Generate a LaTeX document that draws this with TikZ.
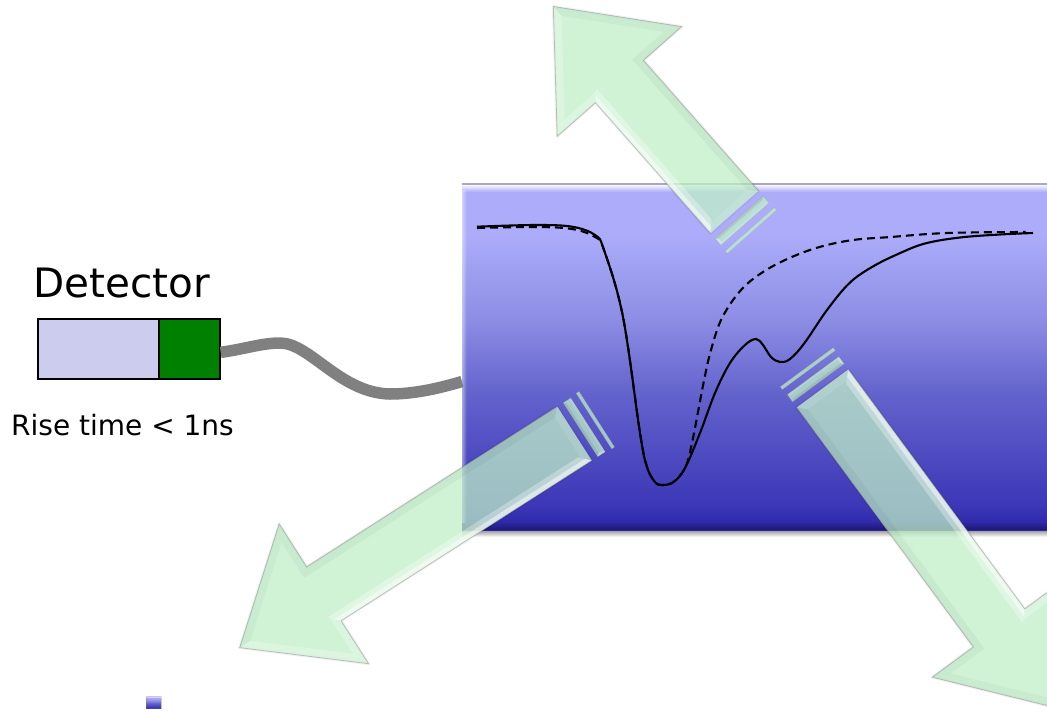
\documentclass[tikz,border=0pt]{standalone}
\usepackage{fontspec}
\setmainfont{DejaVu Sans}
\definecolor{bA}{RGB}{42,36,165}
\definecolor{bB}{RGB}{60,55,183}
\definecolor{bC}{RGB}{100,100,205}
\definecolor{bD}{RGB}{140,140,228}
\definecolor{bE}{RGB}{172,172,250}
\definecolor{lav}{RGB}{204,204,238}
\definecolor{dgreen}{RGB}{0,128,0}
\definecolor{cablegray}{RGB}{128,128,128}
\definecolor{mint}{RGB}{192,239,200}
\pgfdeclareverticalshading{bluegrad}{100bp}{color(0bp)=(bA);color(25bp)=(bA);color(28.5bp)=(bB);color(45bp)=(bC);color(55bp)=(bD);color(67.5bp)=(bE);color(100bp)=(bE)}
\tikzset{
  basefill/.style={fill=mint,fill opacity=0.74},
  facetlight/.style={fill=white,fill opacity=#1},
  facetdark/.style={fill=black,fill opacity=#1},
  rimline/.style={draw=black!55,draw opacity=0.4,line width=0.8pt,line join=miter},
  softshadow/.style={draw=black,draw opacity=0.05,line width=3pt,line join=round},
  trace/.style={line width=2.1pt,black,smooth,tension=0.6},
  dbox/.style={draw=black,line width=1.7pt,inner sep=0pt,anchor=north west},
  lbl/.style={inner sep=0pt,anchor=base west,text=black}
}
% #1 x, #2 y, #3 angle, #4 neck distance
\newcommand{\bevelarrow}[4]{%
\begin{scope}[shift={(#1,#2)},rotate=#3]
  \def\Ln{#4}
  \draw[softshadow] (0,-32) -- (\Ln,-32) -- (\Ln,-83) -- (\Ln+100,0) -- (\Ln,83) -- (\Ln,32) -- (0,32) -- cycle;
  \fill[basefill] (0,-32) -- (\Ln,-32) -- (\Ln,-83) -- (\Ln+100,0) -- (\Ln,83) -- (\Ln,32) -- (0,32) -- cycle;
  % shaft light side, wide and soft
  \fill[facetlight=0.30] (0,-32) -- (\Ln,-32) -- (\Ln+10,-22) -- (10,-22) -- cycle;
  \fill[facetlight=0.48] (0,-32) -- (\Ln,-32) -- (\Ln+5,-27) -- (5,-27) -- cycle;
  % neck, light side
  \fill[facetlight=0.25] (\Ln,-32) -- (\Ln,-83) -- (\Ln+8,-66) -- (\Ln+8,-24) -- cycle;
  % head, light side
  \fill[facetlight=0.24] (\Ln,-83) -- (\Ln+100,0) -- (\Ln+87.5,0) -- (\Ln+8,-66) -- cycle;
  % head, dark side
  \fill[facetdark=0.03] (\Ln,83) -- (\Ln+100,0) -- (\Ln+87.5,0) -- (\Ln+8,66) -- cycle;
  % neck, dark side
  \fill[facetdark=0.035] (\Ln,32) -- (\Ln,83) -- (\Ln+8,66) -- (\Ln+8,24) -- cycle;
  % shaft dark side
  \fill[facetdark=0.04] (0,32) -- (\Ln,32) -- (\Ln+8,24) -- (8,24) -- cycle;
  % end
  \fill[facetlight=0.10] (0,-32) -- (0,32) -- (8,24) -- (8,-24) -- cycle;
  \draw[rimline] (0,-32) -- (\Ln,-32) -- (\Ln,-83) -- (\Ln+100,0) -- (\Ln,83) -- (\Ln,32) -- (0,32);
  % bars behind the end of the shaft
  \fill[basefill] (-7,-32) rectangle (-16,32);
  \fill[facetlight=0.30] (-7,-32) -- (-16,-32) -- (-13.5,-29.5) -- (-9.5,-29.5) -- cycle;
  \fill[facetlight=0.12] (-16,-32) -- (-16,32) -- (-13.5,29.5) -- (-13.5,-29.5) -- cycle;
  \fill[facetdark=0.08] (-7,-32) -- (-7,32) -- (-9.5,29.5) -- (-9.5,-29.5) -- cycle;
  \draw[draw=black!50,draw opacity=0.25,line width=0.5pt] (-7,-32) rectangle (-16,32);
  \fill[basefill] (-23,-33) rectangle (-26.5,33);
  \draw[draw=black!50,draw opacity=0.25,line width=0.5pt] (-23,-33) rectangle (-26.5,33);
\end{scope}}
\begin{document}
\begin{tikzpicture}[x=1pt,y=-1pt]
\useasboundingbox (0,0) rectangle (1047,710);
\clip (0,0) rectangle (1047,710);
\fill[white] (0,0) rectangle (1047,710);
% shadow under the screen
\foreach \i [evaluate=\i as \op using 0.42-0.06*\i] in {0,...,6}
  \fill[black,fill opacity=\op] (462,530+\i) rectangle (1060,531+\i);
% screen
\node[shading=bluegrad,minimum width=598pt,minimum height=347pt,inner sep=0pt,outer sep=0pt,anchor=north west] (screen) at (462,183) {};
\foreach \i [evaluate=\i as \op using 0.9-0.13*\i] in {0,...,6}
  \fill[white,fill opacity=\op] (462,184.5+\i) rectangle (1060,185.5+\i);
\fill[black!35,fill opacity=0.7] (462,182.5) rectangle (1060,184.5);
\foreach \i [evaluate=\i as \op using 0.06+0.035*\i] in {0,...,6}
  \fill[black,fill opacity=\op] (462,523+\i) rectangle (1060,524+\i);
\foreach \i [evaluate=\i as \op using 0.45-0.1*\i] in {0,...,4}
  \fill[white,fill opacity=\op] (462+\i,190) rectangle (463+\i,523);
% curves
\draw[trace,dash pattern=on 8pt off 5pt] plot coordinates {(477,228) (535,227) (572,229) (595,237) (604,250) (623,317) (640,433) (647,467) (655,482) (662,485) (673.5,482) (685,468) (692,443) (703.5,383) (711,350) (722,318) (741,290) (763,272) (789.5,258) (819.5,247) (853,240) (890.7,237) (947,233) (1025.5,232)};
\draw[trace] plot coordinates {(477,226.7) (535,225) (572,226.7) (595,235) (604,250) (623,317) (640,433) (647,467) (655,482) (662,485) (673.5,482) (685,468) (700,433) (715,393) (730,363) (745,345) (756,339) (763,345) (771,357) (780,362) (790,359) (804.5,343) (827,310) (849.5,283) (872,267) (898,254) (925,243.5) (960,237.5) (1000,234.5) (1033,233)};
% detector
\node[dbox,fill=lav,minimum width=121pt,minimum height=60pt] (pmt) at (37,318) {};
\node[dbox,fill=dgreen,minimum width=61pt,minimum height=60pt] (head) at (158,318) {};
\node[lbl,font=\fontsize{40.5pt}{42pt}\selectfont] (dettext) at (33,297) {Detector};
\node[lbl,font=\fontsize{28pt}{32pt}\selectfont] (risetext) at (11,435) {Rise time < 1ns};
% cable
\draw[cablegray,line width=11.5pt] ([yshift=-3.5pt]head.east) .. controls (245,349) and (262,343) .. (280,343) .. controls (310,343) and (340,393) .. (390,394) .. controls (415,394) and (440,388) .. ([yshift=-25pt]screen.west);
% arrows
\bevelarrow{734.5}{212}{131.4}{174}
\bevelarrow{574.5}{433.5}{212.6}{297.5}
\bevelarrow{822.5}{388.5}{-53.6}{297.5}
% icon
\node[shading=bluegrad,minimum width=15pt,minimum height=12pt,inner sep=0pt,draw=black!50,draw opacity=0.35,line width=1pt] (icon) at (153.5,702) {};
\fill[white,fill opacity=0.45] (icon.north west) rectangle ([yshift=-2.5pt]icon.north east);
\end{tikzpicture}
\end{document}
